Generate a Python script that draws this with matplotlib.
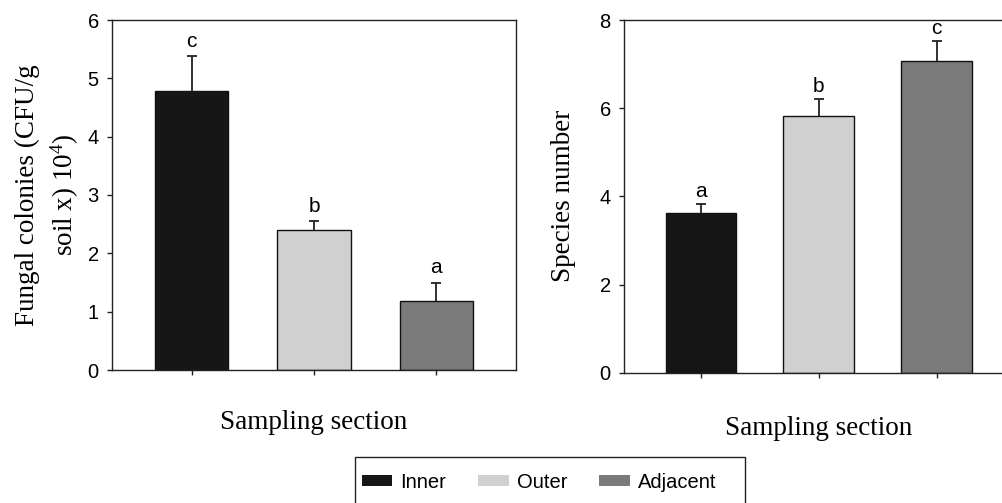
import matplotlib
matplotlib.use("Agg")
import matplotlib.pyplot as plt
from matplotlib.patches import Patch, Rectangle

plt.rcParams["font.family"] = "Liberation Sans"
plt.rcParams["mathtext.fontset"] = "custom"
plt.rcParams["mathtext.rm"] = "Liberation Serif"
plt.rcParams["mathtext.it"] = "Liberation Serif:italic"

## data
sections = ["Inner", "Outer", "Adjacent"]
colors = ["#161616", "#d0d0d0", "#7a7a7a"]

fungal_mean = [4.78, 2.40, 1.19]
fungal_err = [0.60, 0.15, 0.31]
fungal_letters = ["c", "b", "a"]

species_mean = [3.63, 5.82, 7.08]
species_err = [0.20, 0.38, 0.45]
species_letters = ["a", "b", "c"]

fs_tick = 14.5
fs_legend = 14.5
fs_label = 19.5
serif = "Liberation Serif"


def bar_panel(ax, means, errs, letters, ymax, ystep, letter_pad):
    x = list(range(len(means)))
    ax.bar(x, means, width=0.6, color=colors, edgecolor="#111111", linewidth=1.0, zorder=2)
    _, caps, _ = ax.errorbar(x, means, yerr=[[0] * len(errs), errs], fmt="none",
                             ecolor="#222222", elinewidth=1.3, capsize=3.5,
                             capthick=1.3, zorder=3)
    # only the upper cap is drawn in the original
    caps[0].set_visible(False)
    for xi, m, e, lab in zip(x, means, errs, letters):
        ax.annotate(lab, (xi, m + e), xytext=(0, letter_pad), textcoords="offset points",
                    ha="center", va="baseline", fontsize=fs_tick + 0.5)
    ax.set_xlim(-0.653, len(means) - 1 + 0.653)
    ax.set_ylim(0, ymax)
    ax.set_yticks(range(0, ymax + 1, ystep))
    ax.set_xticks(x)
    ax.set_xticklabels([])
    ax.tick_params(direction="out", length=3.5, width=1.0, pad=6,
                   labelsize=fs_tick, color="#222222")
    for sp in ax.spines.values():
        sp.set_linewidth(1.0)
        sp.set_color("#222222")


fig = plt.figure(figsize=(10.03, 5.03), dpi=100)

ax1 = fig.add_axes([112 / 1003, 133 / 503, 404 / 1003, 350 / 503])
bar_panel(ax1, fungal_mean, fungal_err, fungal_letters, 6, 1, 6.5)
ax1.set_ylabel("Fungal colonies (CFU/g\nsoil x) 10$^4$)", fontsize=fs_label,
               family=serif, linespacing=1.35, labelpad=5)
ax1.set_xlabel("Sampling section", fontsize=fs_label, family=serif, labelpad=19)

ax2 = fig.add_axes([624 / 1003, 130.3 / 503, 389.5 / 1003, 352.7 / 503])
bar_panel(ax2, species_mean, species_err, species_letters, 8, 2, 5)
ax2.set_ylabel("Species number", fontsize=fs_label, family=serif, labelpad=17)
ax2.set_xlabel("Sampling section", fontsize=fs_label, family=serif, labelpad=22)

# legend with a box that runs off the bottom edge
handles = [Patch(facecolor=c, edgecolor="none") for c in colors]
fig.legend(handles, sections, loc="center left", bbox_to_anchor=(362 / 1003, 21 / 503),
           ncol=3, frameon=False, fontsize=fs_legend, borderpad=0, borderaxespad=0,
           handlelength=1.5, handleheight=0.5, handletextpad=0.4, columnspacing=1.6)
fig.add_artist(Rectangle((355 / 1003, -0.05), 390 / 1003, 0.05 + 46 / 503,
                         transform=fig.transFigure, fill=False, edgecolor="#222222",
                         linewidth=1.0))

fig.savefig("out.png", dpi=100)
